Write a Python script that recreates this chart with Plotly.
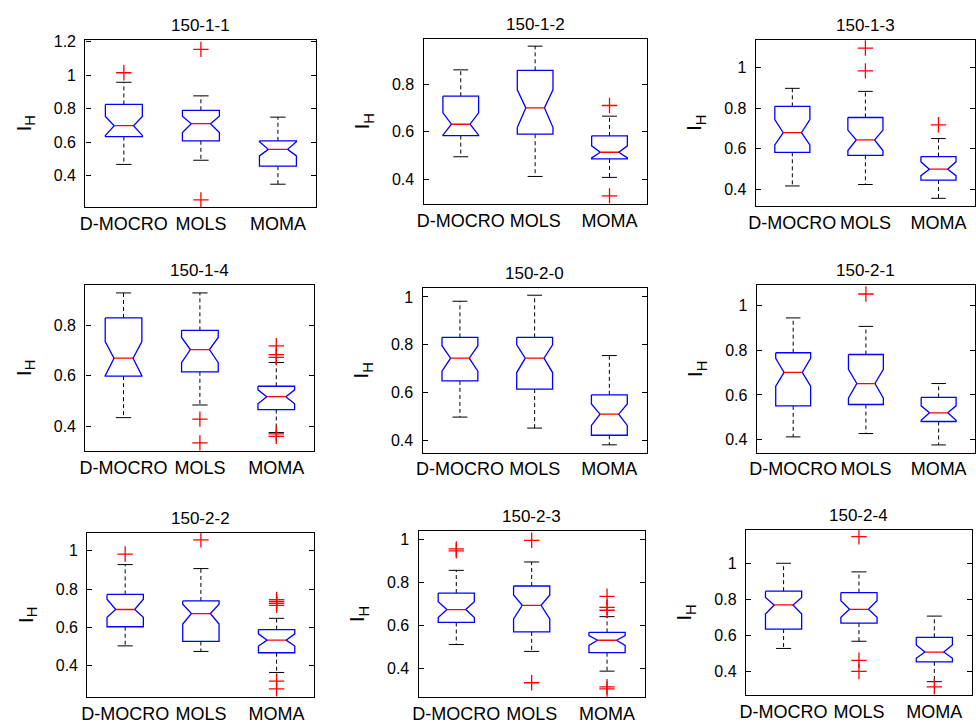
import plotly.graph_objects as go

W, H = 976, 724

titles = ["150-1-1", "150-1-2", "150-1-3", "150-1-4", "150-2-0",
          "150-2-1", "150-2-2", "150-2-3", "150-2-4"]
groups = ["D-MOCRO", "MOLS", "MOMA"]

lower_whisker = [[0.467, 0.492, 0.349], [0.494, 0.411, 0.407], [0.416, 0.423, 0.355],
                 [0.434, 0.484, 0.375], [0.498, 0.452, 0.382], [0.412, 0.427, 0.376],
                 [0.503, 0.474, 0.364], [0.512, 0.480, 0.388], [0.526, 0.566, 0.341]]
q1 = [[0.633, 0.608, 0.457], [0.583, 0.589, 0.485], [0.582, 0.567, 0.445],
      [0.598, 0.615, 0.466], [0.649, 0.615, 0.422], [0.551, 0.557, 0.481],
      [0.603, 0.526, 0.467], [0.615, 0.571, 0.474], [0.634, 0.667, 0.451]]
notch_low = [[0.640, 0.657, 0.518], [0.585, 0.617, 0.489], [0.619, 0.591, 0.467],
             [0.600, 0.651, 0.489], [0.690, 0.684, 0.463], [0.639, 0.586, 0.486],
             [0.652, 0.617, 0.502], [0.638, 0.631, 0.508], [0.718, 0.700, 0.471]]
median = [[0.698, 0.710, 0.557], [0.631, 0.700, 0.513], [0.679, 0.643, 0.499],
          [0.669, 0.703, 0.517], [0.744, 0.744, 0.510], [0.701, 0.651, 0.520],
          [0.693, 0.672, 0.533], [0.675, 0.695, 0.532], [0.768, 0.744, 0.506]]
notch_high = [[0.753, 0.755, 0.602], [0.679, 0.776, 0.540], [0.744, 0.692, 0.535],
              [0.735, 0.751, 0.544], [0.796, 0.800, 0.553], [0.764, 0.715, 0.551],
              [0.747, 0.721, 0.566], [0.712, 0.743, 0.554], [0.810, 0.791, 0.545]]
q3 = [[0.825, 0.790, 0.608], [0.749, 0.858, 0.582], [0.809, 0.754, 0.561],
      [0.828, 0.779, 0.558], [0.831, 0.831, 0.591], [0.789, 0.781, 0.589],
      [0.772, 0.738, 0.588], [0.752, 0.785, 0.569], [0.845, 0.837, 0.588]]
upper_whisker = [[0.957, 0.876, 0.749], [0.860, 0.960, 0.665], [0.898, 0.883, 0.650],
                 [0.927, 0.927, 0.652], [0.982, 1.007, 0.755], [0.945, 0.907, 0.651],
                 [0.928, 0.907, 0.647], [0.858, 0.897, 0.642], [1.000, 0.952, 0.706]]
outliers = [
    [[1.014], [1.153, 0.255], []],
    [[], [], [0.710, 0.329]],
    [[], [1.097, 0.984], [0.718]],
    [[], [0.428, 0.334], [0.718, 0.683, 0.672, 0.370, 0.360]],
    [[], [], []],
    [[], [1.052], []],
    [[0.983], [1.057], [0.745, 0.735, 0.725, 0.715, 0.319, 0.278]],
    [[0.958, 0.949], [0.998, 0.334], [0.737, 0.685, 0.672, 0.315, 0.305]],
    [[], [1.148, 0.460, 0.398], [0.312]],
]
y_ranges = [[0.212, 1.212], [0.294, 0.992], [0.316, 1.139],
            [0.303, 0.958], [0.349, 1.037], [0.341, 1.092],
            [0.234, 1.095], [0.266, 1.043], [0.265, 1.187]]
y_ticks = [[0.4, 0.6, 0.8, 1.0, 1.2], [0.4, 0.6, 0.8], [0.4, 0.6, 0.8, 1.0],
           [0.4, 0.6, 0.8], [0.4, 0.6, 0.8, 1.0], [0.4, 0.6, 0.8, 1.0],
           [0.4, 0.6, 0.8, 1.0], [0.4, 0.6, 0.8, 1.0], [0.4, 0.6, 0.8, 1.0]]

# axes boxes in pixels: (left, right, top, bottom)
boxes_px = [(79, 312, 34, 204), (420, 645, 33, 201), (755, 976, 34, 203),
            (79, 310, 283, 451), (419, 645, 286, 453), (756, 976, 283, 453),
            (81, 310, 534, 701), (415, 643, 532, 701), (745, 973, 531, 699)]

BW, NW, CW = 0.24, 0.125, 0.10
FONT = "Liberation Sans, Arial, sans-serif"

fig = go.Figure()
layout = {}
annotations = []
for p in range(9):
    sfx = "" if p == 0 else str(p + 1)
    xa, ya = "x" + sfx, "y" + sfx
    bx, by, mx, my = [], [], [], []
    wx, wy, cx, cy, ox, oy = [], [], [], [], [], []
    for g in range(3):
        c = g + 1
        lo, a, nl, m, nh, b, hi = (lower_whisker[p][g], q1[p][g], notch_low[p][g],
                                   median[p][g], notch_high[p][g], q3[p][g],
                                   upper_whisker[p][g])
        bx += [c - BW, c + BW, c + BW, c + NW, c + BW, c + BW, c - BW, c - BW, c - NW, c - BW, c - BW, None]
        by += [b, b, nh, m, nl, a, a, nl, m, nh, b, None]
        mx += [c - NW, c + NW, None]
        my += [m, m, None]
        wx += [c, c, None, c, c, None]
        wy += [b, hi, None, a, lo, None]
        cx += [c - CW, c + CW, None, c - CW, c + CW, None]
        cy += [hi, hi, None, lo, lo, None]
        for v in outliers[p][g]:
            ox.append(c)
            oy.append(v)
    common = dict(xaxis=xa, yaxis=ya, showlegend=False, hoverinfo="skip")
    fig.add_trace(go.Scatter(x=wx, y=wy, mode="lines",
                             line=dict(color="black", width=1, dash="4px,3px"), **common))
    fig.add_trace(go.Scatter(x=cx, y=cy, mode="lines",
                             line=dict(color="black", width=1), **common))
    fig.add_trace(go.Scatter(x=bx, y=by, mode="lines",
                             line=dict(color="#0000ff", width=1.3), **common))
    fig.add_trace(go.Scatter(x=mx, y=my, mode="lines",
                             line=dict(color="#ff0000", width=1.3), **common))
    fig.add_trace(go.Scatter(x=ox, y=oy, mode="markers",
                             marker=dict(symbol="cross-thin", size=11,
                                         line=dict(color="#ff0000", width=1.3)), **common))
    l, r, t, bt = boxes_px[p]
    layout["xaxis" + sfx] = dict(
        domain=[l / W, min(r / W, 1.0)], anchor=ya, range=[0.5, 3.5],
        tickvals=[1, 2, 3], ticktext=groups, ticks="", showgrid=False, zeroline=False,
        showline=True, mirror=True, linecolor="black", linewidth=1.3,
        ticklabelstandoff=0,
        tickfont=dict(family=FONT, size=18, color="black"))
    layout["yaxis" + sfx] = dict(
        domain=[1 - bt / H, 1 - t / H], anchor=xa, range=y_ranges[p],
        tickvals=y_ticks[p], ticktext=["%g" % v for v in y_ticks[p]],
        ticks="inside", ticklen=5, tickcolor="black", showgrid=False, zeroline=False,
        showline=True, mirror="ticks", linecolor="black", linewidth=1.3,
        ticklabelstandoff=5,
        tickfont=dict(family=FONT, size=16, color="black"),
        title=dict(text="I<sub>H</sub>", font=dict(family=FONT, size=21, color="black"),
                   standoff=16))
    annotations.append(dict(text=titles[p], xref=xa + " domain", yref=ya + " domain",
                            x=0.5, y=1, xanchor="center", yanchor="bottom", yshift=3,
                            showarrow=False, font=dict(family=FONT, size=17, color="black")))

fig.update_layout(width=W, height=H, margin=dict(l=0, r=0, t=0, b=0),
                  paper_bgcolor="white", plot_bgcolor="white",
                  annotations=annotations, **layout)
fig.write_html("out.html", config={"displayModeBar": False},
               post_script="document.body.style.margin='0';document.body.style.overflow='hidden';")
